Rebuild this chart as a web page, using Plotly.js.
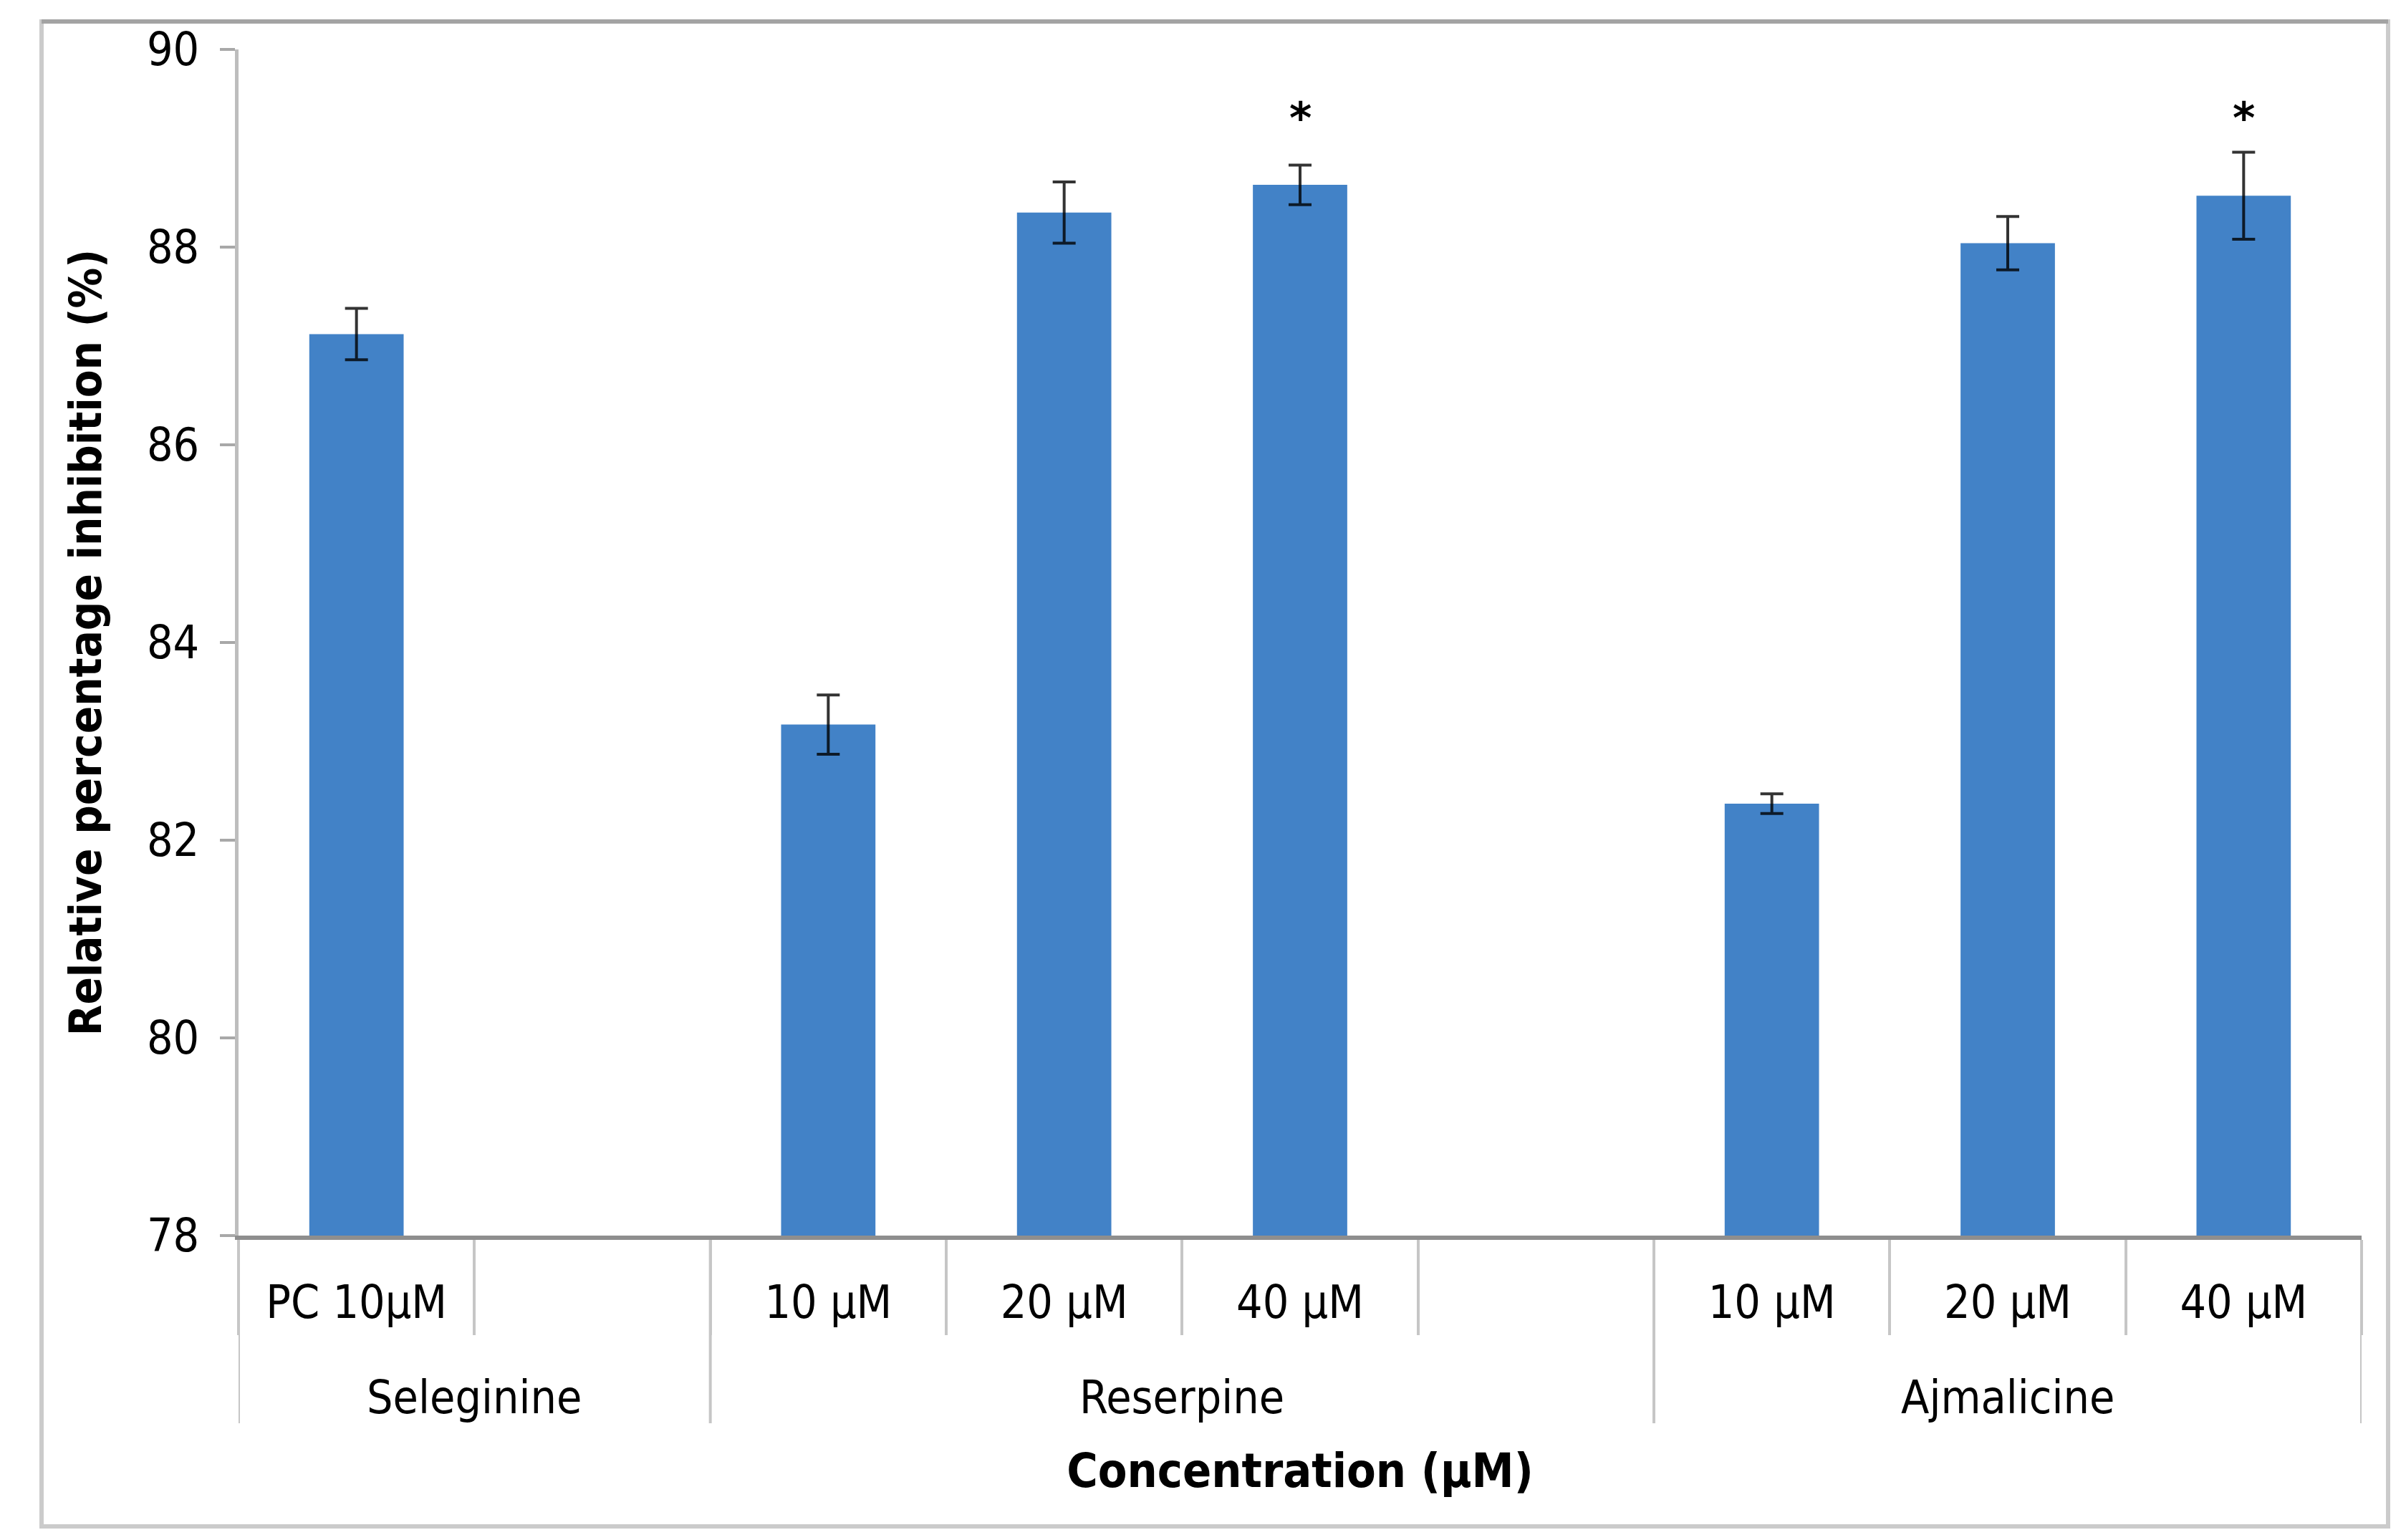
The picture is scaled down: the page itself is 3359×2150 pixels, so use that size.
<!DOCTYPE html>
<html><head><meta charset="utf-8">
<script src="https://cdn.plot.ly/plotly-3.0.1.min.js"></script>
<style>html,body{margin:0;padding:0;background:#fff;} #chart{width:3359px;height:2150px;}</style>
</head><body><div id="chart"></div>
<script>
// ---- data ----
const groups = ['Seleginine','Seleginine','Reserpine','Reserpine','Reserpine','Reserpine','Ajmalicine','Ajmalicine','Ajmalicine'];
const concLabels = ['PC 10µM','','10 µM','20 µM','40 µM','','10 µM','20 µM','40 µM'];
const inhibition = [87.12, null, 83.17, 88.35, 88.63, null, 82.37, 88.04, 88.52];
const errorSE   = [0.26, null, 0.30, 0.31, 0.20, null, 0.10, 0.27, 0.44];
const significance = ['', '', '', '', '*', '', '', '', '*'];
const yTicks = [78, 80, 82, 84, 86, 88, 90];

// ---- layout geometry ----
const W = 3359, H = 2150;
const M = {l: 333, r: 62, t: 69, b: 425};
const plotW = W - M.l - M.r, plotH = H - M.t - M.b;
const pyToPaper = px => px / plotH;
const pxToPaperX = px => px / plotW;

const FONT = 'Liberation Sans Narrow, DejaVu Sans Condensed, Arial Narrow, sans-serif';
const idx = concLabels.map((_, i) => i);
const boundaries = idx.map(i => i - 0.5).concat([idx.length - 0.5]);

// group spans
const groupNames = [...new Set(groups)];
const spans = groupNames.map(g => {
  const first = groups.indexOf(g), last = groups.lastIndexOf(g);
  return {name: g, first, last};
});
const dividerXs = spans.map(s => s.first - 0.5).concat([spans[spans.length - 1].last + 0.5]);

const shapes = dividerXs.map(x => ({
  type: 'line', xref: 'x', yref: 'paper', x0: x, x1: x,
  y0: 0, y1: -pyToPaper(262), line: {color: '#c6c6c6', width: 4}, layer: 'below'
}));
// outer chart frame (light border with slightly darker top edge)
const fx0 = -pxToPaperX(M.l - 58), fx1 = 1 + pxToPaperX(3334 - (W - M.r));
const fy0 = -pyToPaper(2131 - (H - M.b)), fy1 = 1 + pyToPaper(M.t - 30);
shapes.push({
  type: 'rect', xref: 'paper', yref: 'paper', x0: fx0, x1: fx1, y0: fy0, y1: fy1,
  line: {color: '#cbcbcb', width: 6}, fillcolor: 'rgba(0,0,0,0)'
});
shapes.push({
  type: 'line', xref: 'paper', yref: 'paper', x0: fx0, x1: fx1, y0: fy1, y1: fy1,
  line: {color: '#a3a3a3', width: 6}
});

const annotations = spans.map(s => ({
  xref: 'x', yref: 'paper', x: (s.first + s.last) / 2, y: -pyToPaper(226),
  yanchor: 'middle', xanchor: 'center', showarrow: false, text: s.name,
  font: {family: FONT, size: 64, color: '#000'}
}));
const STAR_LEVEL = 89.38;
idx.forEach(i => {
  if (significance[i]) annotations.push({
    xref: 'x', yref: 'y', x: i, y: STAR_LEVEL, yanchor: 'middle', yshift: -10,
    showarrow: false, text: significance[i],
    font: {family: 'DejaVu Sans', size: 60, color: '#000', weight: 700}
  });
});

const trace = {
  type: 'bar', x: idx, y: inhibition, width: 0.4,
  marker: {color: '#4282c7', line: {width: 0}},
  error_y: {type: 'data', array: errorSE, visible: true, color: 'rgba(0,0,0,0.8)', thickness: 4, width: 16},
  hoverinfo: 'y'
};

const layout = {
  width: W, height: H, margin: M, showlegend: false,
  paper_bgcolor: '#fff', plot_bgcolor: '#fff',
  xaxis: {
    range: [-0.5, idx.length - 0.5], tickmode: 'array', tickvals: idx, ticktext: concLabels,
    ticks: '', ticklabelstandoff: 32, showgrid: false, zeroline: false,
    showline: true, linecolor: '#8e8e8e', linewidth: 6,
    tickfont: {family: FONT, size: 64, color: '#000'},
    minor: {tickmode: 'array', tickvals: boundaries, ticks: 'outside', ticklen: 133, tickwidth: 4, tickcolor: '#c6c6c6', showgrid: false},
    title: {text: 'Concentration (µM)', standoff: 178, font: {family: FONT, size: 66, color: '#000', weight: 700}},
    automargin: false, fixedrange: true
  },
  yaxis: {
    range: [78, 90], tickmode: 'array', tickvals: yTicks, ticks: 'outside', ticklen: 21, tickwidth: 4, tickcolor: '#a8a8a8',
    showline: true, linecolor: '#bdbdbd', linewidth: 5, showgrid: false, zeroline: false,
    ticklabelstandoff: 16,
    tickfont: {family: FONT, size: 64, color: '#000'},
    title: {text: 'Relative percentage inhibition (%)', standoff: 44, font: {family: FONT, size: 63, color: '#000', weight: 700}},
    automargin: false, fixedrange: true
  },
  shapes, annotations
};

Plotly.newPlot('chart', [trace], layout, {staticPlot: true, displayModeBar: false});
</script>
</body></html>
